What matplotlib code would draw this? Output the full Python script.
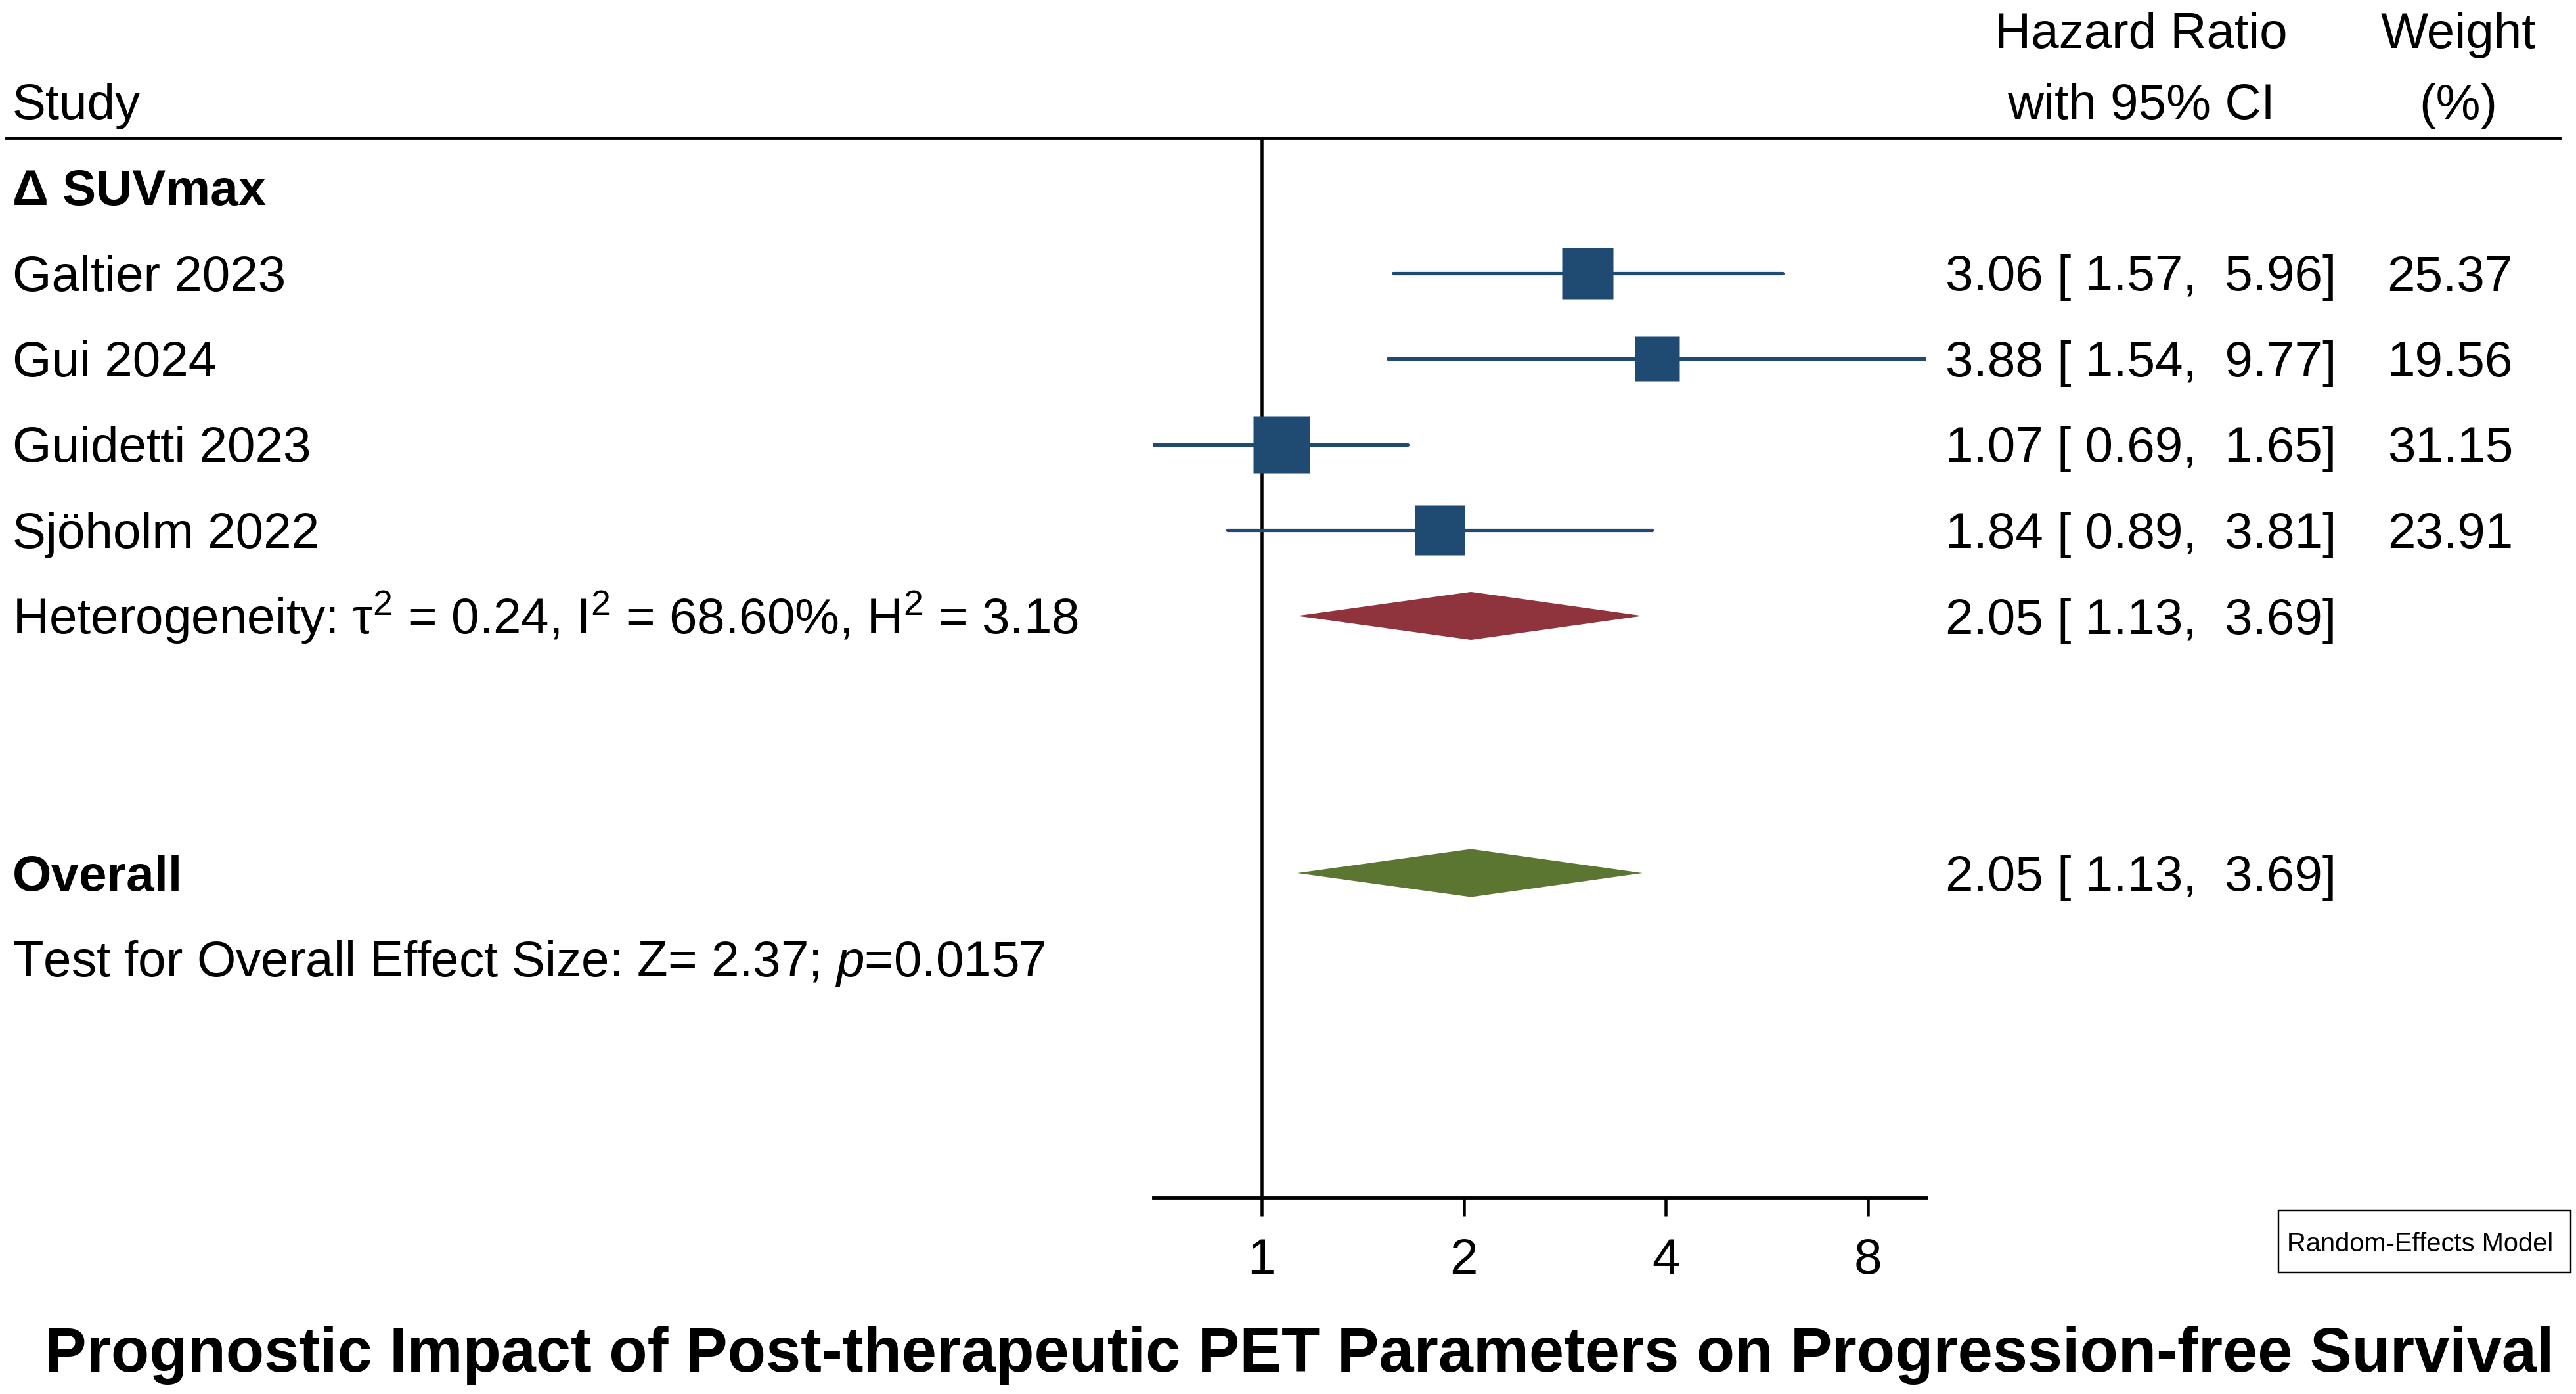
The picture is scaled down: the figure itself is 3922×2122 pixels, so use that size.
import numpy as np
import matplotlib
matplotlib.use("Agg")
import matplotlib.pyplot as plt
from matplotlib import font_manager as fm
from matplotlib.patches import Polygon, Rectangle
from matplotlib.lines import Line2D
from matplotlib.ticker import NullLocator

W, H = 3922, 2122
DPI = 250

# data
studies = ["Galtier 2023", "Gui 2024", "Guidetti 2023", "Sjöholm 2022"]
hr = [3.06, 3.88, 1.07, 1.84]
ci_low = [1.57, 1.54, 0.69, 0.89]
ci_high = [5.96, 9.77, 1.65, 3.81]
weights = [25.37, 19.56, 31.15, 23.91]

group_label = "Δ SUVmax"
group_est = [2.05, 1.13, 3.69]
overall_est = [2.05, 1.13, 3.69]
tau2, i2, h2 = 0.24, 68.60, 3.18
z_stat, p_val = 2.37, 0.0157

x_ticks = [1, 2, 4, 8]
title = "Prognostic Impact of Post-therapeutic PET Parameters on Progression-free Survival"

BLUE = "#1F4A72"
RED = "#8F343C"
GREEN = "#5A7631"

plt.rcParams["font.family"] = ["Liberation Sans", "DejaVu Sans"]
plt.rcParams["mathtext.fontset"] = "custom"
plt.rcParams["mathtext.rm"] = "Liberation Sans"
plt.rcParams["mathtext.it"] = "Liberation Sans:italic"
plt.rcParams["mathtext.bf"] = "Liberation Sans:bold"


def has_font(name):
    try:
        fm.findfont(fm.FontProperties(family=name), fallback_to_default=False)
        return True
    except ValueError:
        return False


NARROW = "Liberation Sans Narrow" if has_font("Liberation Sans Narrow") else "Liberation Sans"

FS = 22
ROW0, ROWH = 285, 130.5   # pixel centre of first row, row pitch
TOP, BOTTOM = 210, 1823   # header rule and x axis, pixels


def fx(px):
    return px / W


def fy(py):
    return 1 - py / H


def row_px(i):
    return ROW0 + ROWH * i


fig = plt.figure(figsize=(W / DPI, H / DPI), dpi=DPI)
ax = fig.add_axes([fx(1756), fy(BOTTOM), (2933 - 1756) / W, (BOTTOM - TOP) / H])

ax.set_xscale("log", base=2)
ax.set_xlim(min(ci_low), max(ci_high))
ax.set_ylim((BOTTOM - ROW0) / ROWH, (TOP - ROW0) / ROWH)

ax.axvline(1, color="black", lw=1.3, zorder=1)

rows = np.arange(1, len(studies) + 1)
lc = ax.hlines(rows, ci_low, ci_high, color=BLUE, lw=1.5, zorder=2)
lc.set_capstyle("round")
for r, est, w in zip(rows, hr, weights):
    ax.plot(est, r, marker="s", ms=4.43 * np.sqrt(w), color=BLUE, mec="none", zorder=3)


def diamond(row, est, lo, hi, color):
    h = 0.28
    ax.add_patch(Polygon([(lo, row), (est, row - h), (hi, row), (est, row + h)],
                         closed=True, fc=color, ec="none", zorder=3))


het_row, overall_row, test_row = 5, 8, 9
diamond(het_row, group_est[0], group_est[1], group_est[2], RED)
diamond(overall_row, overall_est[0], overall_est[1], overall_est[2], GREEN)

for s in ["left", "top", "right"]:
    ax.spines[s].set_visible(False)
ax.spines["bottom"].set_linewidth(1.4)
ax.set_xticks(x_ticks)
ax.set_xticklabels([str(t) for t in x_ticks])
ax.xaxis.set_minor_locator(NullLocator())
ax.set_yticks([])
ax.tick_params(axis="x", length=8, width=1.3, labelsize=FS, pad=9.5)
ax.patch.set_alpha(0)

# header
fig.add_artist(Line2D([fx(10), fx(3897)], [fy(TOP), fy(TOP)], color="black", lw=1.4))
fig.text(fx(19), fy(181), "Study", fontsize=FS, va="baseline")
fig.text(fx(3260), fy(73), "Hazard Ratio", fontsize=FS, va="baseline", ha="center")
fig.text(fx(3260), fy(181), "with 95% CI", fontsize=FS, va="baseline", ha="center")
fig.text(fx(3743), fy(73), "Weight", fontsize=FS, va="baseline", ha="center")
fig.text(fx(3743), fy(181), "(%)", fontsize=FS, va="baseline", ha="center")


def row_text(i, s, x=19, ha="left", **kw):
    fig.text(fx(x), fy(row_px(i) + 27), s, fontsize=FS, va="baseline", ha=ha, **kw)


def ci_str(est, lo, hi):
    return f"{est:.2f} [{lo:5.2f}, {hi:5.2f}]"


row_text(0, group_label, weight="bold")
for r, name, est, lo, hi, w in zip(rows, studies, hr, ci_low, ci_high, weights):
    row_text(r, name)
    row_text(r, ci_str(est, lo, hi), x=2962)
    row_text(r, f"{w:.2f}", x=3826, ha="right")

row_text(het_row, f"Heterogeneity: τ$^2$ = {tau2:.2f}, I$^2$ = {i2:.2f}%, H$^2$ = {h2:.2f}")
row_text(het_row, ci_str(*group_est), x=2962)
row_text(overall_row, "Overall", weight="bold")
row_text(overall_row, ci_str(*overall_est), x=2962)
row_text(test_row, f"Test for Overall Effect Size: Z= {z_stat:.2f}; $p$={p_val:.4f}")


def fit_width(t, target):
    r = fig.canvas.get_renderer()
    for _ in range(3):
        w = t.get_window_extent(r).width
        t.set_fontsize(t.get_fontsize() * target / w)


# model box
fig.add_artist(Rectangle((fx(3469), fy(1937)), (3914 - 3469) / W, (1937 - 1843) / H,
                         transform=fig.transFigure, fill=False, ec="black", lw=0.7))
lab = fig.text(fx(3482), fy(1905), "Random-Effects Model", fontsize=12, va="baseline",
               family=NARROW)
fit_width(lab, 405)

t = fig.text(fx(1978), fy(2088), title, fontsize=30, va="baseline", ha="center",
             weight="bold", family=NARROW)
fit_width(t, 3821)

fig.savefig("out.png", dpi=DPI, facecolor="white")
